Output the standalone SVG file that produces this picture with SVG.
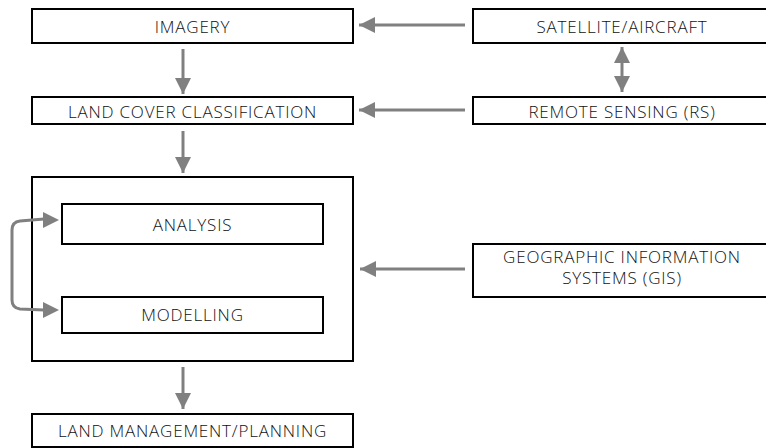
<svg xmlns="http://www.w3.org/2000/svg" width="766" height="448" viewBox="0 0 766 448">
<style>
.box{fill:#fff;stroke:#000;stroke-width:2}
.t{font-family:"Open Sans","Liberation Sans",sans-serif;font-weight:300;font-size:17px;fill:#111;text-anchor:middle;letter-spacing:0.8px}
.c{fill:none;stroke:#808080;stroke-width:3}
</style>
<defs>
<marker id="ah" markerUnits="userSpaceOnUse" markerWidth="16" markerHeight="16" refX="16" refY="8" orient="auto-start-reverse" viewBox="0 0 16 16">
<path d="M0,0 L16,8 L0,16 Z" fill="#808080"/>
</marker>
</defs>
<g id="imagery"><rect class="box" x="32" y="9" width="321" height="34"/><text class="t" x="192.5" y="33">IMAGERY</text></g>
<g id="landcover"><rect class="box" x="32" y="97" width="321" height="27"/><text class="t" x="192.5" y="118">LAND COVER CLASSIFICATION</text></g>
<g id="process"><rect class="box" x="32" y="177" width="321" height="184"/></g>
<g id="analysis"><rect class="box" x="62" y="204" width="261" height="40"/><text class="t" x="192.5" y="231">ANALYSIS</text></g>
<g id="modelling"><rect class="box" x="62" y="297" width="261" height="36"/><text class="t" x="192.5" y="321">MODELLING</text></g>
<g id="landmgmt"><rect class="box" x="32" y="414" width="321" height="33"/><text class="t" x="192.5" y="437">LAND MANAGEMENT/PLANNING</text></g>
<g id="satellite"><rect class="box" x="473" y="9" width="300" height="34"/><text class="t" x="622" y="33">SATELLITE/AIRCRAFT</text></g>
<g id="rs"><rect class="box" x="473" y="97" width="300" height="27"/><text class="t" x="622" y="118">REMOTE SENSING (RS)</text></g>
<g id="gis"><rect class="box" x="473" y="244" width="300" height="53"/><text class="t" x="622" y="263">GEOGRAPHIC INFORMATION</text><text class="t" x="622" y="284">SYSTEMS (GIS)</text></g>
<g id="connectors">
<line class="c" x1="465" y1="25" x2="359" y2="25" marker-end="url(#ah)"/>
<line class="c" x1="465" y1="110" x2="359" y2="110" marker-end="url(#ah)"/>
<line class="c" x1="465" y1="269" x2="360" y2="269" marker-end="url(#ah)"/>
<line class="c" x1="183" y1="49" x2="183" y2="94" marker-end="url(#ah)"/>
<line class="c" x1="183" y1="131" x2="183" y2="173" marker-end="url(#ah)"/>
<line class="c" x1="183" y1="367" x2="183" y2="409" marker-end="url(#ah)"/>
<line class="c" x1="622" y1="47" x2="622" y2="92" marker-start="url(#ah)" marker-end="url(#ah)"/>
<path class="c" d="M44,219 L20,221 Q12,222 12,230 L12,300 Q12,308 20,309 L44,310"/>
<path d="M43,212 L59,220 L43,228 Z" fill="#808080"/>
<path d="M43,302 L59,310 L43,318 Z" fill="#808080"/>
</g>
</svg>
